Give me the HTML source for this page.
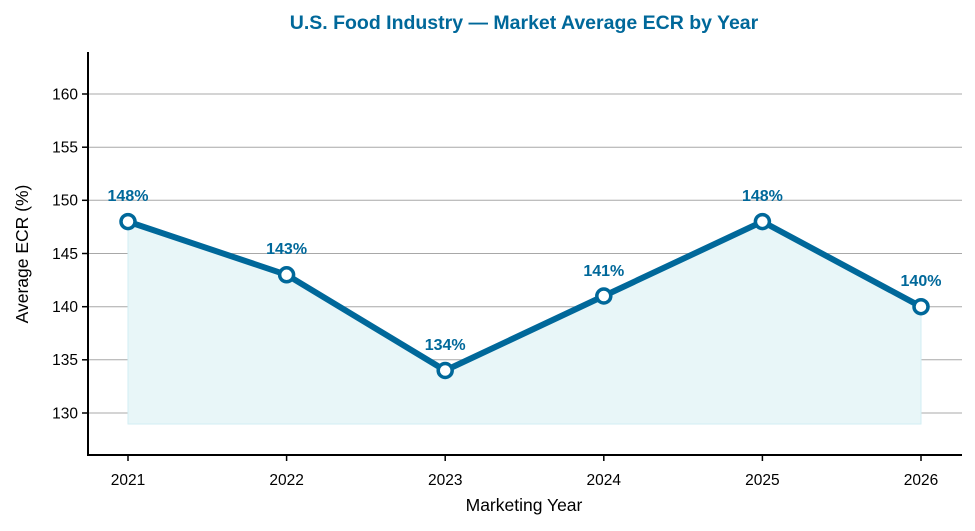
<!DOCTYPE html>
<html><head><style>body{margin:0;background:#fff}svg{display:block;font-family:"Liberation Sans",Arial,sans-serif}</style></head>
<body>
<svg width="975" height="531" viewBox="0 0 975 531">
<text x="524" y="29" text-anchor="middle" font-size="19.5" font-weight="bold" fill="#00689a">U.S. Food Industry — Market Average ECR by Year</text>
<g stroke="#a8a8a8" stroke-width="1">
<line x1="88" x2="962" y1="94" y2="94"/><line x1="88" x2="962" y1="147.2" y2="147.2"/><line x1="88" x2="962" y1="200.3" y2="200.3"/><line x1="88" x2="962" y1="253.5" y2="253.5"/><line x1="88" x2="962" y1="306.7" y2="306.7"/><line x1="88" x2="962" y1="359.8" y2="359.8"/><line x1="88" x2="962" y1="413" y2="413"/>
</g>
<polygon points="128,221.6 286.6,274.8 445.2,370.5 603.8,296 762.4,221.6 921,306.7 921,424 128,424" fill="#e8f6f8" stroke="#d2eef3" stroke-width="1"/>
<polyline points="128,221.6 286.6,274.8 445.2,370.5 603.8,296 762.4,221.6 921,306.7" fill="none" stroke="#00689a" stroke-width="6" stroke-linejoin="round"/>
<g fill="#fff" stroke="#00689a" stroke-width="3.5">
<circle cx="128" cy="221.6" r="7"/><circle cx="286.6" cy="274.8" r="7"/><circle cx="445.2" cy="370.5" r="7"/><circle cx="603.8" cy="296" r="7"/><circle cx="762.4" cy="221.6" r="7"/><circle cx="921" cy="306.7" r="7"/>
</g>
<g font-size="16" font-weight="bold" fill="#00689a" text-anchor="middle">
<text x="128" y="201">148%</text><text x="286.6" y="254">143%</text><text x="445.2" y="350">134%</text><text x="603.8" y="276">141%</text><text x="762.4" y="201">148%</text><text x="921" y="286">140%</text>
</g>
<g stroke="#000" stroke-width="2"><line x1="88" y1="52" x2="88" y2="456"/><line x1="87" y1="455" x2="962" y2="455"/></g>
<g stroke="#000" stroke-width="1.5">
<line x1="82" x2="88" y1="94" y2="94"/><line x1="82" x2="88" y1="147.2" y2="147.2"/><line x1="82" x2="88" y1="200.3" y2="200.3"/><line x1="82" x2="88" y1="253.5" y2="253.5"/><line x1="82" x2="88" y1="306.7" y2="306.7"/><line x1="82" x2="88" y1="359.8" y2="359.8"/><line x1="82" x2="88" y1="413" y2="413"/>
<line x1="128" x2="128" y1="455" y2="461"/><line x1="286.6" x2="286.6" y1="455" y2="461"/><line x1="445.2" x2="445.2" y1="455" y2="461"/><line x1="603.8" x2="603.8" y1="455" y2="461"/><line x1="762.4" x2="762.4" y1="455" y2="461"/><line x1="921" x2="921" y1="455" y2="461"/>
</g>
<g font-size="15.5" fill="#000" text-anchor="end">
<text x="78" y="99.5">160</text><text x="78" y="152.5">155</text><text x="78" y="205.5">150</text><text x="78" y="259">145</text><text x="78" y="312">140</text><text x="78" y="365">135</text><text x="78" y="418.5">130</text>
</g>
<g font-size="15.5" fill="#000" text-anchor="middle">
<text x="128" y="485">2021</text><text x="286.6" y="485">2022</text><text x="445.2" y="485">2023</text><text x="603.8" y="485">2024</text><text x="762.4" y="485">2025</text><text x="921" y="485">2026</text>
</g>
<text x="524" y="511" text-anchor="middle" font-size="17.5" fill="#000">Marketing Year</text>
<text transform="translate(28,254) rotate(-90)" text-anchor="middle" font-size="17.5" fill="#000">Average ECR (%)</text>
</svg>
</body></html>
